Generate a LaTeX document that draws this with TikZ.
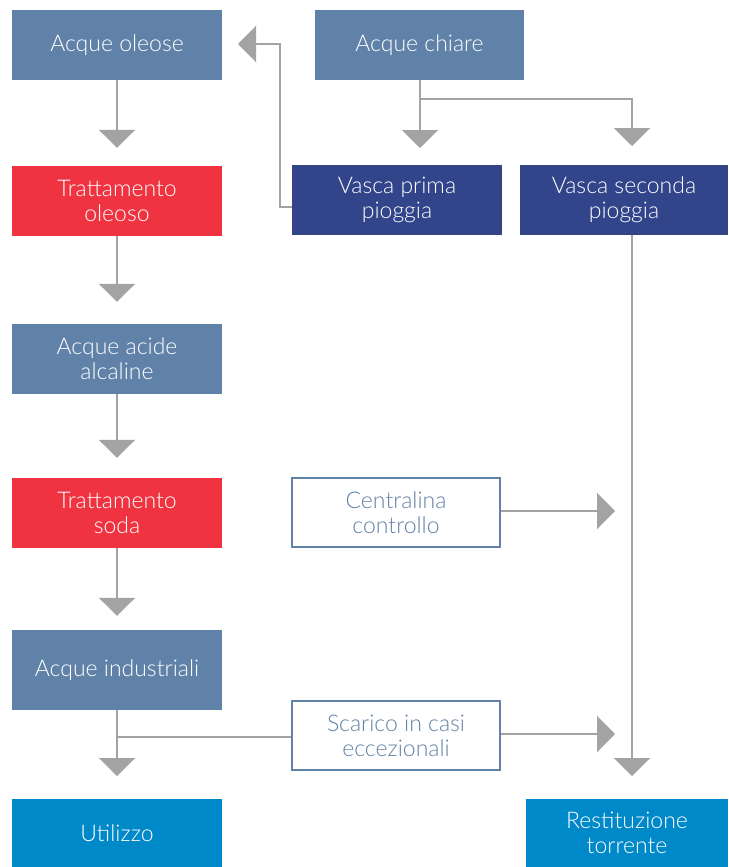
\documentclass[tikz,border=0pt]{standalone}
\usepackage{fontspec}
\setmainfont{Lato Light}
\usetikzlibrary{arrows.meta}
\definecolor{slate}{HTML}{6182A8}
\definecolor{redbox}{HTML}{EF3340}
\definecolor{navy}{HTML}{32458A}
\definecolor{cyanbox}{HTML}{0089C8}
\definecolor{linegray}{HTML}{A3A3A3}
\tikzset{
  box/.style={minimum width=210pt, minimum height=70pt, inner sep=0pt, align=center,
    font=\fontsize{23}{25}\selectfont, text=white},
  outbox/.style={box, draw=slate, line width=2pt, fill=white, text=slate},
  conn/.style={draw=linegray, line width=2.5pt},
  arr/.style={conn, -{Triangle[length=18pt,width=36pt]}},
}
\begin{document}
\begin{tikzpicture}[x=1pt,y=-1pt]
\useasboundingbox (0,0) rectangle (728,867);
\node[box, fill=slate] (ao) at (117,45) {Acque oleose};
\node[box, fill=slate, minimum width=209pt] (ac) at (419.5,45) {Acque chiare};
\node[box, fill=redbox] (to) at (117,201) {Trattamento\\oleoso};
\node[box, fill=navy] (vp) at (397,200) {Vasca prima\\pioggia};
\node[box, fill=navy, minimum width=208pt] (vs) at (624,200) {Vasca seconda\\pioggia};
\node[box, fill=slate] (aa) at (117,359) {Acque acide\\alcaline};
\node[box, fill=redbox] (ts) at (117,513) {Trattamento\\soda};
\node[outbox, minimum width=208pt, minimum height=69pt] (cc) at (396,512.5) {Centralina\\controllo};
\node[box, fill=slate, minimum height=80pt] (ai) at (117,670) {Acque industriali\\[-22pt]\phantom{x}};
\node[outbox, minimum width=208pt, minimum height=69pt] (sc) at (396,735.5) {Scarico in casi\\eccezionali};
\node[box, fill=cyanbox, minimum height=68pt] (ut) at (117,833) {Utilizzo};
\node[box, fill=cyanbox, minimum width=202pt, minimum height=68pt] (rt) at (627,833) {Restituzione\\torrente};

\coordinate (acsplit) at (420,99);
\coordinate (vptip) at (420,148);
\coordinate (vstip) at (632,146);
\coordinate (vsbend) at (632,99);
\coordinate (bendA) at (280,207);
\coordinate (bendB) at (280,44);
\coordinate (aotip) at (238,44);
\coordinate (cctip) at (615,511);
\coordinate (scsplit) at (117,737);
\coordinate (sctip) at (615,734);
\coordinate (rttip) at (632,776);
\coordinate (uttip) at (117,776);

\draw[arr] (ao.south) -- ([yshift=18pt]to.north);
\draw[arr] (to.south) -- ([yshift=22pt]aa.north);
\draw[arr] (aa.south) -- ([yshift=20pt]ts.north);
\draw[arr] (ts.south) -- ([yshift=14pt]ai.north);
\draw[arr] (ai.south) -- (uttip);
\draw[conn] (scsplit) -- (scsplit -| sc.west);
\draw[arr] (sc.east |- sctip) -- (sctip);
\draw[arr] (cc.east |- cctip) -- (cctip);
\draw[arr] (vs.south -| rttip) -- (rttip);
\draw[arr] (ac.south -| vptip) -- (vptip);
\draw[arr] (acsplit) -- (vsbend) -- (vstip);
\draw[arr] (vp.west |- bendA) -- (bendA) -- (bendB) -- (aotip);
\end{tikzpicture}
\end{document}
